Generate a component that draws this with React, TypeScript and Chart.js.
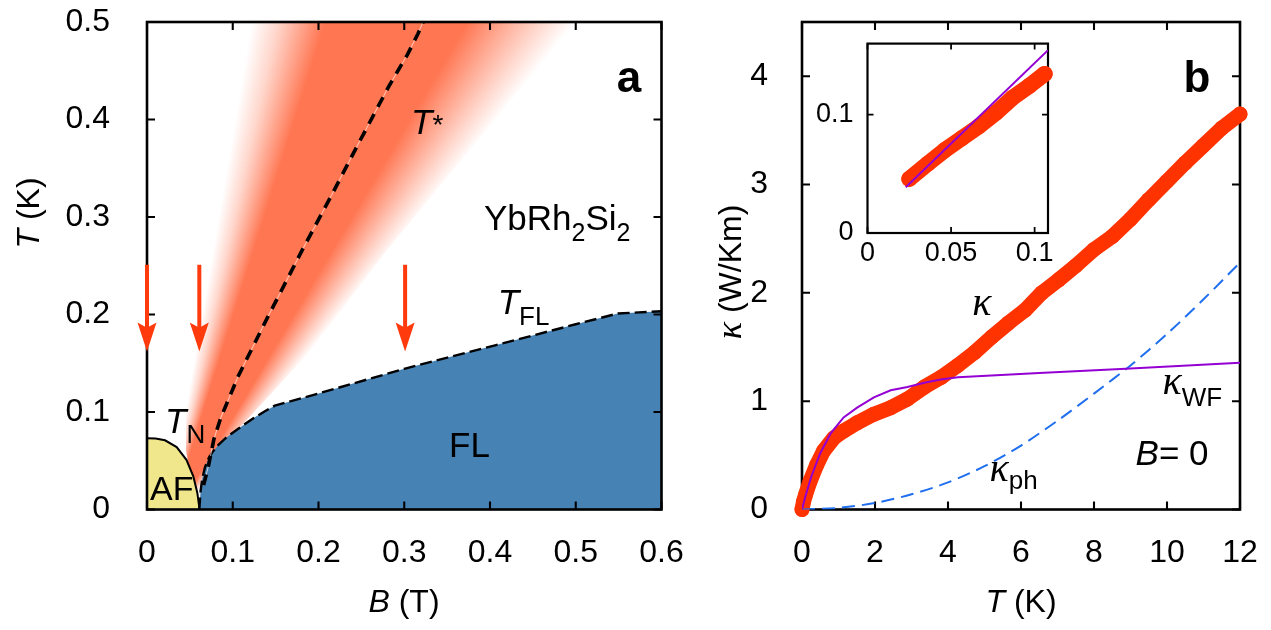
import { useEffect, useRef } from 'react';
import { Chart, registerables } from 'chart.js';

Chart.register(...registerables);

// ================= Panel a : phase diagram =================
const xTicksA = [0, 0.1, 0.2, 0.3, 0.4, 0.5, 0.6];
const xLabelsA = ['0', '0.1', '0.2', '0.3', '0.4', '0.5', '0.6'];
const yTicksA = [0, 0.1, 0.2, 0.3, 0.4, 0.5];
const yLabelsA = ['0', '0.1', '0.2', '0.3', '0.4', '0.5'];

// AF dome (T_N line)
const afB = [0, 0.01, 0.021, 0.0346, 0.046, 0.054, 0.0587, 0.0607, 0.061];
const afT = [0.073, 0.0728, 0.071, 0.064, 0.051, 0.034, 0.017, 0.004, 0];

// FL boundary (T_FL line)
const flB = [0.061, 0.0625, 0.0645, 0.0675, 0.0715, 0.0765, 0.083, 0.09, 0.098, 0.106, 0.1155, 0.1257, 0.137, 0.149, 0.2, 0.3, 0.406, 0.5, 0.549, 0.6];
const flT = [0, 0.019, 0.032, 0.043, 0.052, 0.059, 0.066, 0.072, 0.0775, 0.0825, 0.0885, 0.0945, 0.1005, 0.1065, 0.119, 0.1443, 0.1684, 0.19, 0.201, 0.2034];

// T* crossover fan (left edge upward, then right edge downward)
const fanB = [0.061, 0.052, 0.0455, 0.0455, 0.048, 0.054, 0.073, 0.098, 0.122, 0.5, 0.276, 0.19, 0.106, 0.075, 0.061];
const fanT = [0, 0.03, 0.06, 0.099, 0.133, 0.162, 0.264, 0.383, 0.5, 0.5, 0.262, 0.162, 0.082, 0.04, 0];

// T* line
const tStarB = [0.066, 0.0715, 0.078, 0.086, 0.1065, 0.14, 0.181, 0.215, 0.247, 0.282, 0.304, 0.316, 0.322];
const tStarT = [0.025, 0.044, 0.072, 0.094, 0.137, 0.196, 0.266, 0.322, 0.376, 0.434, 0.467, 0.488, 0.5];

// measurement arrows
const arrowB = [0, 0.061, 0.301];
const arrowTopT = 0.251;
const arrowTipT = 0.162;

// ================= Panel b : thermal conductivity =================
const xTicksB = [0, 2, 4, 6, 8, 10, 12];
const xLabelsB = ['0', '2', '4', '6', '8', '10', '12'];
const yTicksB = [0, 1, 2, 3, 4];
const yLabelsB = ['0', '1', '2', '3', '4'];

const kappaT = [0, 0.04, 0.1, 0.22, 0.4, 0.59, 0.87, 1.14, 1.51, 1.97, 2.43, 2.89, 3.35, 3.81, 4.27, 4.73, 5.19, 5.65, 6.11, 6.57, 7.03, 7.5, 8.0, 8.5, 9.0, 9.5, 10.0, 10.5, 11.0, 11.5, 12.0];
const kappaV = [0, 0.07, 0.14, 0.26, 0.41, 0.54, 0.66, 0.725, 0.8, 0.88, 0.94, 1.02, 1.13, 1.22, 1.33, 1.45, 1.59, 1.72, 1.84, 2.0, 2.12, 2.25, 2.4, 2.52, 2.68, 2.86, 3.03, 3.2, 3.36, 3.52, 3.65];

const wfT = [0, 0.1, 0.25, 0.5, 0.78, 1.14, 1.51, 1.97, 2.43, 2.89, 3.35, 3.8, 4.27, 5.19, 6.5, 8.87, 12];
const wfV = [0, 0.13, 0.3, 0.52, 0.7, 0.85, 0.94, 1.035, 1.1, 1.13, 1.17, 1.2, 1.22, 1.236, 1.26, 1.3, 1.355];

const phT = [0, 1, 2, 3, 4, 5, 6, 7, 8, 9, 10, 11, 12];
const phV = [0, 0.015, 0.06, 0.14, 0.25, 0.4, 0.59, 0.82, 1.07, 1.33, 1.62, 1.94, 2.28];

// inset
const xTicksIn = [0, 0.05, 0.1];
const xLabelsIn = ['0', '0.05', '0.1'];
const yTicksIn = [0, 0.1];
const yLabelsIn = ['0', '0.1'];
const inT = [0.025, 0.0361, 0.0462, 0.0564, 0.0665, 0.0767, 0.0868, 0.0969, 0.106];
const inK = [0.0457, 0.0586, 0.07, 0.08, 0.09, 0.1014, 0.1143, 0.1244, 0.1344];
const inWfT = [0.0229, 0.108];
const inWfK = [0.0386, 0.1544];

// ================= helpers =================
const pts = (xs: number[], ys: number[]) => xs.map((x, i) => ({ x, y: ys[i] }));

const RED = '#ff3300';
const ARROW = '#ff3a0c';
const SANS = '"Liberation Sans", Arial, sans-serif';
const SERIF = '"Liberation Serif", "DejaVu Serif", serif';

type Part = { t: string; size: number; it?: boolean; bold?: boolean; serif?: boolean; dy?: number };
type Note = { parts: Part[]; x: number; y: number; align?: 'left' | 'center' };
type Title = { parts: Part[]; px: number; py: number; rot?: boolean };
type Deco = {
  xTicks: number[]; xLabels: string[]; yTicks: number[]; yLabels: string[];
  tickLen: number; frameWidth: number; labelSize: number; xGap: number; yGap: number;
  frameOnTop: boolean; whiteBg?: boolean;
  notes: Note[]; titles: Title[];
  arrows?: { xs: number[]; top: number; tip: number };
};

const fontOf = (p: Part) =>
  `${p.it ? 'italic ' : ''}${p.bold ? 'bold ' : ''}${p.size}px ${p.serif ? SERIF : SANS}`;

function drawRich(ctx: CanvasRenderingContext2D, parts: Part[], x: number, y: number, align: string, baseline: CanvasTextBaseline) {
  ctx.save();
  ctx.fillStyle = '#000';
  ctx.textAlign = 'left';
  ctx.textBaseline = baseline;
  let w = 0;
  for (const p of parts) { ctx.font = fontOf(p); w += ctx.measureText(p.t).width; }
  let cx = align === 'center' ? x - w / 2 : x;
  for (const p of parts) {
    ctx.font = fontOf(p);
    ctx.fillText(p.t, cx, y + (p.dy || 0));
    cx += ctx.measureText(p.t).width;
  }
  ctx.restore();
}

function makeDeco(d: Deco) {
  const frame = (chart: any) => {
    const { ctx, chartArea: a, scales } = chart;
    const { x, y } = scales;
    ctx.save();
    ctx.strokeStyle = '#000';
    ctx.lineWidth = d.frameWidth;
    ctx.strokeRect(a.left, a.top, a.right - a.left, a.bottom - a.top);
    ctx.lineWidth = d.frameWidth * 0.8;
    ctx.beginPath();
    for (const v of d.xTicks) {
      const px = x.getPixelForValue(v);
      ctx.moveTo(px, a.bottom); ctx.lineTo(px, a.bottom - d.tickLen);
      ctx.moveTo(px, a.top); ctx.lineTo(px, a.top + d.tickLen);
    }
    for (const v of d.yTicks) {
      const py = y.getPixelForValue(v);
      ctx.moveTo(a.left, py); ctx.lineTo(a.left + d.tickLen, py);
      ctx.moveTo(a.right, py); ctx.lineTo(a.right - d.tickLen, py);
    }
    ctx.stroke();
    ctx.restore();
  };
  return {
    id: 'deco',
    beforeDatasetsDraw(chart: any) {
      const { ctx, chartArea: a } = chart;
      if (d.whiteBg) {
        ctx.save(); ctx.fillStyle = '#fff';
        ctx.fillRect(a.left, a.top, a.right - a.left, a.bottom - a.top);
        ctx.restore();
      }
      if (!d.frameOnTop) frame(chart);
    },
    afterDatasetsDraw(chart: any) {
      const { ctx, chartArea: a, scales } = chart;
      const { x, y } = scales;
      if (d.frameOnTop) frame(chart);
      if (d.arrows) {
        ctx.save();
        ctx.fillStyle = ARROW;
        const headL = 29, headW = 19, shaft = 4;
        for (const b of d.arrows.xs) {
          const px = x.getPixelForValue(b);
          const y0 = y.getPixelForValue(d.arrows.top);
          const y1 = y.getPixelForValue(d.arrows.tip);
          ctx.fillRect(px - shaft / 2, y0, shaft, y1 - headL * 0.8 - y0);
          ctx.beginPath();
          ctx.moveTo(px, y1);
          ctx.lineTo(px - headW / 2, y1 - headL);
          ctx.lineTo(px, y1 - headL * 0.82);
          ctx.lineTo(px + headW / 2, y1 - headL);
          ctx.closePath();
          ctx.fill();
        }
        ctx.restore();
      }
      // tick labels
      ctx.save();
      ctx.fillStyle = '#000';
      ctx.font = `${d.labelSize}px ${SANS}`;
      ctx.textBaseline = 'middle';
      ctx.textAlign = 'center';
      d.xTicks.forEach((v, i) => ctx.fillText(d.xLabels[i], x.getPixelForValue(v), a.bottom + d.xGap));
      ctx.textAlign = 'right';
      d.yTicks.forEach((v, i) => ctx.fillText(d.yLabels[i], a.left - d.yGap, y.getPixelForValue(v)));
      ctx.restore();
      for (const n of d.notes) {
        drawRich(ctx, n.parts, x.getPixelForValue(n.x), y.getPixelForValue(n.y), n.align || 'left', 'alphabetic');
      }
      for (const t of d.titles) {
        if (t.rot) {
          ctx.save();
          ctx.translate(t.px, t.py);
          ctx.rotate(-Math.PI / 2);
          drawRich(ctx, t.parts, 0, 0, 'center', 'middle');
          ctx.restore();
        } else {
          drawRich(ctx, t.parts, t.px, t.py, 'center', 'middle');
        }
      }
    },
  };
}

// fan gradient (style): conic gradient centred below the fan's apex
const FAN_APEX = { b: 0.0216, t: -0.022 };
const FAN_RGB = '255,118,82';
const FAN_STOPS: [number, number][] = [[0, 0], [0.1, 0.3], [0.27, 1], [0.72, 1], [0.9, 0.35], [1, 0]];

function fanFill(c: any) {
  const chart = c.chart;
  const sx = chart.scales?.x, sy = chart.scales?.y;
  if (!sx || !sy || !chart.chartArea) return `rgba(${FAN_RGB},0.6)`;
  const cx = sx.getPixelForValue(FAN_APEX.b), cy = sy.getPixelForValue(FAN_APEX.t);
  const lx = sx.getPixelForValue(fanB[8]), ly = sy.getPixelForValue(fanT[8]);
  const rx = sx.getPixelForValue(fanB[9]), ry = sy.getPixelForValue(fanT[9]);
  const a1 = Math.atan2(ly - cy, lx - cx);
  const a2 = Math.atan2(ry - cy, rx - cx);
  const span = (a2 - a1) / (2 * Math.PI);
  const g = chart.ctx.createConicGradient(a1, cx, cy);
  for (const [f, al] of FAN_STOPS) g.addColorStop(f * span, `rgba(${FAN_RGB},${al})`);
  g.addColorStop(Math.min(1, span + 0.001), `rgba(${FAN_RGB},0)`);
  g.addColorStop(1, `rgba(${FAN_RGB},0)`);
  return g;
}

const baseOptions = (pad: any, xr: [number, number], yr: [number, number]) => ({
  responsive: false,
  animation: false as const,
  devicePixelRatio: 1,
  events: [] as any[],
  layout: { padding: pad },
  plugins: { legend: { display: false }, tooltip: { enabled: false } },
  scales: {
    x: { type: 'linear' as const, display: false, min: xr[0], max: xr[1] },
    y: { type: 'linear' as const, display: false, min: yr[0], max: yr[1] },
  },
});

const A_LEFT = 0, A_W = 690;
const B_LEFT = 690, B_W = 581;
const I_LEFT = 800, I_TOP = 20, I_W = 280, I_H = 260;
const H = 630;

export default function App() {
  const refA = useRef<HTMLCanvasElement>(null);
  const refB = useRef<HTMLCanvasElement>(null);
  const refI = useRef<HTMLCanvasElement>(null);

  useEffect(() => {
    const charts: Chart[] = [];

    // ---------- panel a ----------
    const decoA = makeDeco({
      xTicks: xTicksA, xLabels: xLabelsA, yTicks: yTicksA, yLabels: yLabelsA,
      tickLen: 8, frameWidth: 2.6, labelSize: 32, xGap: 44, yGap: 37,
      frameOnTop: true,
      arrows: { xs: arrowB, top: arrowTopT, tip: arrowTipT },
      notes: [
        { parts: [{ t: 'a', size: 44, bold: true }], x: 0.562, y: 0.428, align: 'center' },
        { parts: [{ t: 'T', size: 35, it: true }, { t: '*', size: 28 }], x: 0.308, y: 0.385 },
        { parts: [{ t: 'YbRh', size: 35 }, { t: '2', size: 25, dy: 11 }, { t: 'Si', size: 35 }, { t: '2', size: 25, dy: 11 }], x: 0.393, y: 0.287 },
        { parts: [{ t: 'T', size: 35, it: true }, { t: 'FL', size: 26, dy: 11 }], x: 0.409, y: 0.2005 },
        { parts: [{ t: 'T', size: 35, it: true }, { t: 'N', size: 26, dy: 10 }], x: 0.021, y: 0.0785 },
        { parts: [{ t: 'FL', size: 35 }], x: 0.376, y: 0.054, align: 'center' },
        { parts: [{ t: 'AF', size: 34 }], x: 0.0288, y: 0.0097, align: 'center' },
      ],
      titles: [
        { parts: [{ t: 'B', size: 32, it: true }, { t: ' (T)', size: 32 }], px: 404, py: 603 },
        { parts: [{ t: 'T', size: 32, it: true }, { t: ' (K)', size: 32 }], px: 30, py: 213, rot: true },
      ],
    });
    charts.push(new Chart(refA.current!, {
      type: 'scatter',
      data: {
        datasets: [
          { data: pts(tStarB, tStarT), showLine: true, borderColor: '#000', borderWidth: 3.6, borderDash: [11, 8], pointRadius: 0, fill: false, order: 0 } as any,
          { data: pts(tStarB, tStarT), showLine: true, borderColor: 'rgba(255,235,228,0.9)', borderWidth: 0.8, pointRadius: 0, fill: false, order: 0.5 } as any,
          { data: pts(flB, flT), showLine: true, borderColor: '#000', borderWidth: 2.4, borderDash: [12, 5], backgroundColor: '#4682b4', fill: 'origin', pointRadius: 0, order: 1 } as any,
          { data: pts(afB, afT), showLine: true, borderColor: '#000', borderWidth: 2, backgroundColor: '#f0e68c', fill: 'origin', pointRadius: 0, order: 2 } as any,
          { data: pts(fanB, fanT), showLine: true, borderWidth: 0, borderColor: 'rgba(0,0,0,0)', backgroundColor: fanFill, fill: 'shape', pointRadius: 0, order: 3 } as any,
        ],
      },
      options: baseOptions({ left: 147, top: 22, right: A_W - 661.5, bottom: H - 509.5 }, [0, 0.6], [0, 0.5]) as any,
      plugins: [decoA],
    }));

    // ---------- panel b ----------
    const decoB = makeDeco({
      xTicks: xTicksB, xLabels: xLabelsB, yTicks: yTicksB, yLabels: yLabelsB,
      tickLen: 8, frameWidth: 2.6, labelSize: 32, xGap: 44, yGap: 34,
      frameOnTop: false,
      notes: [
        { parts: [{ t: 'b', size: 44, bold: true }], x: 10.82, y: 3.855, align: 'center' },
        { parts: [{ t: 'κ', size: 40, it: true, serif: true }], x: 4.93, y: 1.796, align: 'center' },
        { parts: [{ t: 'κ', size: 40, it: true, serif: true }, { t: 'WF', size: 26, dy: 12 }], x: 9.88, y: 1.066 },
        { parts: [{ t: 'κ', size: 40, it: true, serif: true }, { t: 'ph', size: 26, dy: 8 }], x: 5.14, y: 0.263 },
        { parts: [{ t: 'B', size: 35, it: true }, { t: '= 0', size: 35 }], x: 9.14, y: 0.415 },
      ],
      titles: [
        { parts: [{ t: 'T', size: 32, it: true }, { t: ' (K)', size: 32 }], px: 1021 - B_LEFT, py: 603 },
        { parts: [{ t: 'κ', size: 36, it: true, serif: true }, { t: ' (W/Km)', size: 32 }], px: 732 - B_LEFT, py: 272, rot: true },
      ],
    });
    charts.push(new Chart(refB.current!, {
      type: 'scatter',
      data: {
        datasets: [
          { data: pts(wfT, wfV), showLine: true, borderColor: '#9400d3', borderWidth: 2, pointRadius: 0, fill: false, order: 0 } as any,
          { data: pts(phT, phV), showLine: true, borderColor: '#1f6fef', borderWidth: 2, borderDash: [13, 7], pointRadius: 0, fill: false, order: 0.5, tension: 0.3 } as any,
          { data: pts(kappaT, kappaV), showLine: true, borderColor: RED, borderWidth: 15, borderCapStyle: 'round', borderJoinStyle: 'round', pointRadius: 7.5, pointBackgroundColor: RED, pointBorderWidth: 0, fill: false, clip: false, order: 1 } as any,
        ],
      },
      options: baseOptions({ left: 802 - B_LEFT, top: 22, right: B_LEFT + B_W - 1240, bottom: H - 509.5 }, [0, 12], [0, 4.5]) as any,
      plugins: [decoB],
    }));

    // ---------- inset ----------
    const decoI = makeDeco({
      xTicks: xTicksIn, xLabels: xLabelsIn, yTicks: yTicksIn, yLabels: yLabelsIn,
      tickLen: 6, frameWidth: 2.2, labelSize: 27, xGap: 21, yGap: 14,
      frameOnTop: false, whiteBg: true,
      notes: [], titles: [],
    });
    charts.push(new Chart(refI.current!, {
      type: 'scatter',
      data: {
        datasets: [
          { data: pts(inWfT, inWfK), showLine: true, borderColor: '#9400d3', borderWidth: 2, pointRadius: 0, fill: false, order: 0 } as any,
          { data: pts(inT, inK), showLine: true, borderColor: RED, borderWidth: 16, borderCapStyle: 'round', borderJoinStyle: 'round', pointRadius: 8, pointBackgroundColor: RED, pointBorderWidth: 0, fill: false, clip: false, order: 1 } as any,
        ],
      },
      options: baseOptions({ left: 867.5 - I_LEFT, top: 43.6 - I_TOP, right: I_LEFT + I_W - 1048, bottom: I_TOP + I_H - 233 }, [0, 0.108], [0, 0.16]) as any,
      plugins: [decoI],
    }));

    return () => charts.forEach((c) => c.destroy());
  }, []);

  return (
    <div style={{ position: 'fixed', left: 0, top: 0, width: 1271, height: H, background: '#fff', overflow: 'hidden' }}>
      <canvas ref={refA} width={A_W} height={H} style={{ position: 'absolute', left: A_LEFT, top: 0, width: A_W, height: H }} />
      <canvas ref={refB} width={B_W} height={H} style={{ position: 'absolute', left: B_LEFT, top: 0, width: B_W, height: H }} />
      <canvas ref={refI} width={I_W} height={I_H} style={{ position: 'absolute', left: I_LEFT, top: I_TOP, width: I_W, height: I_H }} />
    </div>
  );
}
